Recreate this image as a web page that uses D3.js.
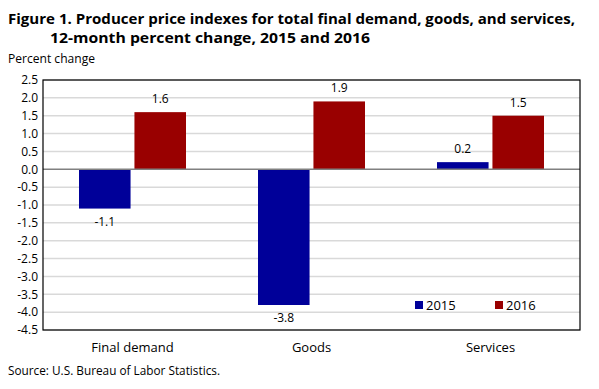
<!DOCTYPE html>
<html>
<head>
<meta charset="utf-8">
<script src="https://cdn.jsdelivr.net/npm/d3@7"></script>
<style>
  body { margin: 0; background: #fff; }
  svg { font-family: "Open Sans", "Noto Sans", sans-serif; }
</style>
</head>
<body>
<svg id="chart" width="599" height="389"></svg>
<script>
'use strict';

// data
var categories = ['Final demand', 'Goods', 'Services'];
var years = ['2015', '2016'];
var values2015 = [-1.1, -3.8, 0.2];
var values2016 = [1.6, 1.9, 1.5];
var yTicks = [2.5, 2.0, 1.5, 1.0, 0.5, 0.0, -0.5, -1.0, -1.5, -2.0, -2.5, -3.0, -3.5, -4.0, -4.5];
var colors = ['#000099', '#990000'];

var rows = categories.map(function (c, i) {
  return { cat: c, vals: [values2015[i], values2016[i]] };
});

var svg = d3.select('#chart');
var margin = { top: 80, left: 43, right: 19, bottom: 59 };
var width = 599 - margin.left - margin.right;
var height = 389 - margin.top - margin.bottom;

//Title
var title = svg.append('text').attr('font-weight', 'bold').attr('font-size', 15).attr('fill', '#000');
title.append('tspan').attr('x', 8).attr('y', 24)
  .attr('textLength', 567).attr('lengthAdjust', 'spacingAndGlyphs')
  .text('Figure 1. Producer price indexes for total final demand, goods, and services,');
title.append('tspan').attr('x', 50).attr('y', 43)
  .attr('textLength', 320).attr('lengthAdjust', 'spacingAndGlyphs')
  .text('12-month percent change, 2015 and 2016');

svg.append('text').attr('x', 8).attr('y', 63).attr('font-size', 12)
  .attr('textLength', 87).attr('lengthAdjust', 'spacingAndGlyphs')
  .text('Percent change');

var g = svg.append('g').attr('transform', 'translate(' + margin.left + ',' + margin.top + ')');

//Scales
var y = d3.scaleLinear().domain([-4.5, 2.5]).range([height, 0]);
var x0 = d3.scaleBand().domain(categories).range([0, width]);
var x1 = d3.scaleBand().domain(years).range([36, x0.bandwidth() - 36]).paddingInner(0.07);

//Gridlines
g.selectAll('line.grid').data(yTicks.filter(function (d) { return d !== 0; })).enter()
  .append('line').attr('class', 'grid')
  .attr('x1', 0).attr('x2', width)
  .attr('y1', function (d) { return y(d); }).attr('y2', function (d) { return y(d); })
  .attr('stroke', '#d9d9d9').attr('stroke-width', 1.5);

//Y axis labels
var yAxis = g.append('g').call(d3.axisLeft(y).tickValues(yTicks).tickFormat(d3.format('.1f')).tickSize(0).tickPadding(5));
yAxis.select('.domain').remove();
yAxis.selectAll('text').attr('font-size', 12).attr('fill', '#000')
  .attr('font-family', '"Open Sans", sans-serif')
  .text(function (d) { return d3.format('.1f')(d).replace('−', '-'); });

//Bars
var groups = g.selectAll('g.cat').data(rows).enter().append('g').attr('class', 'cat')
  .attr('transform', function (d) { return 'translate(' + x0(d.cat) + ',0)'; });

groups.selectAll('rect').data(function (d) { return d.vals; }).enter().append('rect')
  .attr('x', function (d, i) { return x1(years[i]); })
  .attr('width', x1.bandwidth())
  .attr('y', function (d) { return y(Math.max(0, d)); })
  .attr('height', function (d) { return Math.abs(y(d) - y(0)); })
  .attr('fill', function (d, i) { return colors[i]; });

//Value labels
groups.selectAll('text.val').data(function (d) { return d.vals; }).enter().append('text').attr('class', 'val')
  .attr('x', function (d, i) { return x1(years[i]) + x1.bandwidth() / 2; })
  .attr('y', function (d) { return d >= 0 ? y(d) - 9 : y(d) + 17; })
  .attr('text-anchor', 'middle').attr('font-size', 12)
  .text(function (d) { return d3.format('.1f')(d).replace('−', '-'); });

//Zero line
g.append('line').attr('x1', 0).attr('x2', width).attr('y1', y(0)).attr('y2', y(0))
  .attr('stroke', '#808080').attr('stroke-width', 1.5);

//Frame
g.append('rect').attr('x', 0).attr('y', 0).attr('width', width).attr('height', height)
  .attr('fill', 'none').attr('stroke', '#000').attr('stroke-width', 1.2);

//Category labels
g.selectAll('text.cat').data(categories).enter().append('text').attr('class', 'cat')
  .attr('x', function (d) { return x0(d) + x0.bandwidth() / 2; })
  .attr('y', height + 22).attr('text-anchor', 'middle').attr('font-size', 13)
  .text(function (d) { return d; });

//Legend
var legend = svg.selectAll('g.legend').data(years).enter().append('g').attr('class', 'legend')
  .attr('transform', function (d, i) { return 'translate(' + (415 + i * 80) + ',301)'; });
legend.append('rect').attr('width', 8).attr('height', 8).attr('fill', function (d, i) { return colors[i]; });
legend.append('text').attr('x', 11).attr('y', 8.5).attr('font-size', 13).text(function (d) { return d; });

//Source
svg.append('text').attr('x', 8).attr('y', 375).attr('font-size', 12)
  .attr('textLength', 212).attr('lengthAdjust', 'spacingAndGlyphs')
  .text('Source: U.S. Bureau of Labor Statistics.');
</script>
</body>
</html>
